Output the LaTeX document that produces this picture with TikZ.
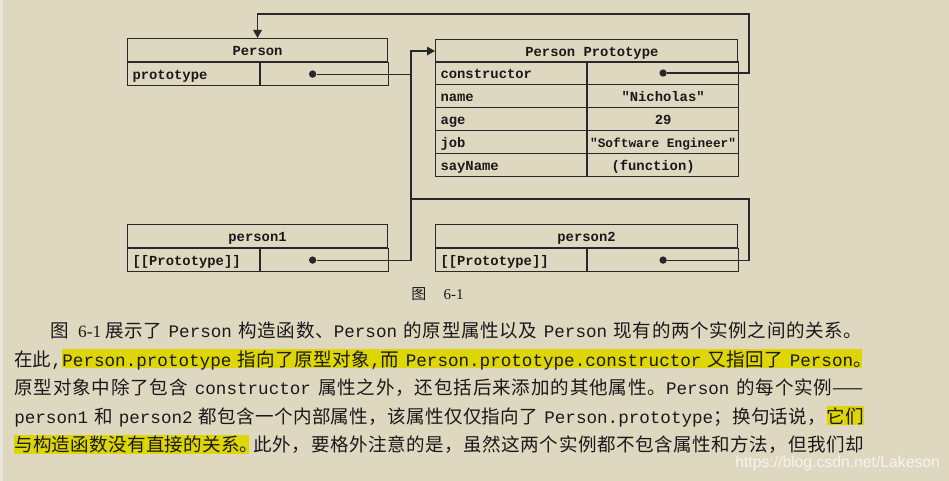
\documentclass[tikz,border=0pt]{standalone}
\usepackage{fontspec}
\usepackage{tikz}
\usetikzlibrary{arrows.meta}
\usetikzlibrary{positioning}
\newfontfamily\cjkschrift{Noto Sans CJK SC}
\newfontfamily\monoschrift{Liberation Mono}
\newfontfamily\serifschrift{Liberation Serif}
\newfontfamily\sansschrift{Liberation Sans}
\definecolor{hgrund}{RGB}{223,216,193}
\definecolor{rand}{RGB}{233,230,219}
\definecolor{gelb}{RGB}{222,214,0}
\definecolor{linie}{RGB}{40,40,40}
\definecolor{schrift}{RGB}{25,25,25}
\definecolor{wasserz}{RGB}{246,244,238}
\newcommand\diaschrift{\monoschrift\bfseries\fontsize{10.4}{12}\selectfont}
\newcommand\kode[1]{{\monoschrift\fontsize{13.2}{16}\selectfont#1}}
\newcommand\lz{\hspace{4pt plus 2pt minus 2pt}}

% Dehnbarer Abstand zwischen chinesischen Zeichen (Blocksatz)
\newXeTeXintercharclass\cjkklasse
\newcount\zz
\zz="4E00
\loop \XeTeXcharclass\zz=\cjkklasse \ifnum\zz<"9FFF \advance\zz by 1 \repeat
\XeTeXcharclass"3001=\cjkklasse \XeTeXcharclass"3002=\cjkklasse
\XeTeXcharclass"FF0C=\cjkklasse \XeTeXcharclass"FF1B=\cjkklasse
\XeTeXinterchartoks\cjkklasse\cjkklasse={\hskip 0pt plus 1pt minus 0.15pt\relax}
\XeTeXinterchartokenstate=1

\tikzset{
  zelle/.style={draw=linie, line width=0.8pt, inner sep=0pt, minimum height=17.25pt,
    text height=8.5pt, text depth=1pt, text=schrift, font=\diaschrift, anchor=north west},
  kopf/.style={zelle, minimum width=#1},
  schluessel/.style={zelle, text width=#1, inner xsep=3.75pt, align=left},
  wert/.style={zelle, minimum width=#1},
  punkt/.style={circle, fill=linie, inner sep=0pt, minimum size=5.5pt},
  verbindung/.style={draw=linie, line width=0.8pt},
  spitze/.style={-{Triangle[length=6pt,width=6.5pt]}},
  zeile/.style={inner sep=0pt, anchor=base west, text=schrift,
    font=\cjkschrift\fontsize{13.9}{16}\selectfont},
  markiert/.style={zeile, fill=gelb, text height=12.5pt, text depth=1.8pt},
}

\begin{document}
\begin{tikzpicture}[x=0.75pt, y=-0.75pt] % 1 Einheit = 1 Pixel, y nach unten

% Hintergrund
\fill[hgrund] (0,0) rectangle (949,481);
\fill[rand] (0,0) rectangle (3,481);
\useasboundingbox (0,0) rectangle (949,481);

% Person
\node[kopf=195pt] (person) at (127,38) {Person};
\node[schluessel=91.5pt] (personK) at (person.south west) {prototype};
\node[wert=96pt] (personV) at (personK.north east) {};
\node[punkt] (personP) at ([xshift=-9pt]personV.center) {};

% Person Prototype
\node[kopf=226.5pt] (proto) at (435,39) {\hspace{8pt}Person Prototype};
\foreach \i/\key/\val in {1/constructor/{}, 2/name/{"Nicholas"}, 3/age/29,
    4/job/{\fontsize{9.6}{12}\selectfont"Software Engineer"}, 5/sayName/{\hspace{-15pt}(function)}} {
  \node[schluessel=105.75pt] (pk\i) at (435,{61+23*(\i-1)}) {\key}; % Schluessel
  \node[wert=113.25pt] (pv\i) at (pk\i.north east) {\val}; % Wert
}
\node[punkt] (protoP) at (pv1.center) {};

% Instanzen person1, person2
\node[kopf=195pt] (p1) at (127,224) {person1};
\node[schluessel=91.5pt] (p1K) at (p1.south west) {[[Prototype]]};
\node[wert=96pt] (p1V) at (p1K.north east) {};
\node[punkt] (p1P) at ([xshift=-9pt]p1V.center) {};

\node[kopf=226.5pt] (p2) at (435,224) {person2};
\node[schluessel=105.75pt] (p2K) at (p2.south west) {[[Prototype]]};
\node[wert=113.25pt] (p2V) at (p2K.north east) {};
\node[punkt] (p2P) at (p2V.center) {};

% Verbindungen
\coordinate (knoten) at (411,199);
\coordinate (oben) at (749,14);
\draw[verbindung, spitze] (personP) -| (knoten) |- (proto.west);
\draw[verbindung, spitze] (protoP) -| (oben) -| (person.north);
\draw[verbindung] (p1P) -| (knoten);
\draw[verbindung] (p2P) -| (knoten -| oben) -- (knoten);

% Bildunterschrift
\node[inner sep=0pt, anchor=base west, text=schrift] (titel) at (411,299)
  {{\cjkschrift\fontsize{11.25}{13}\selectfont 图}\hspace{13pt}{\serifschrift\fontsize{11.25}{13}\selectfont 6-1}};

% Fliesstext
\node[zeile] (z1) at (50,337.5) {\makebox[609pt][s]{图\kern7pt{\serifschrift\fontsize{13}{15}\selectfont 6-1}\kern3pt 展示了\lz\kode{Person}\lz 构造函数、\kode{Person}\lz 的原型属性以及\lz\kode{Person}\lz 现有的两个实例之间的关系。}};
\node[zeile] (z2a) at (14,366) {在此\kode{,}};
\node[markiert, base right=0pt of z2a] (z2b) {\makebox[600pt][s]{\kode{Person.prototype}\lz 指向了原型对象\kode{,}而\lz\kode{Person.prototype.constructor}\lz 又指回了\lz\kode{Person}\makebox[0.5em][l]{。}}};
\node[zeile] (z3) at (14,394.5) {\makebox[637pt][s]{原型对象中除了包含\lz\kode{constructor}\lz 属性之外，还包括后来添加的其他属性。\kode{Person}\lz 的每个实例——}};
\node[zeile] (z4a) at (14,423) {\makebox[609pt][s]{\kode{person1}\lz 和\lz\kode{person2}\lz 都包含一个内部属性，该属性仅仅指向了\lz\kode{Person.prototype}；换句话说，}};
\node[markiert, base right=0pt of z4a] (z4b) {它们};
\node[markiert] (z5a) at (14,451.5) {\makebox[176.25pt][s]{与构造函数没有直接的关系\makebox[0.5em][l]{。}}};
\node[zeile, base right=0pt of z5a] (z5b) {\makebox[460.5pt][s]{\kern3pt 此外，要格外注意的是，虽然这两个实例都不包含属性和方法，但我们却}};

% Wasserzeichen
\node[inner sep=0pt, anchor=base west, text=wasserz, font=\sansschrift\fontsize{11.8}{14}\selectfont] (quelle) at (735,467) {https://blog.csdn.net/Lakeson};

\end{tikzpicture}
\end{document}
